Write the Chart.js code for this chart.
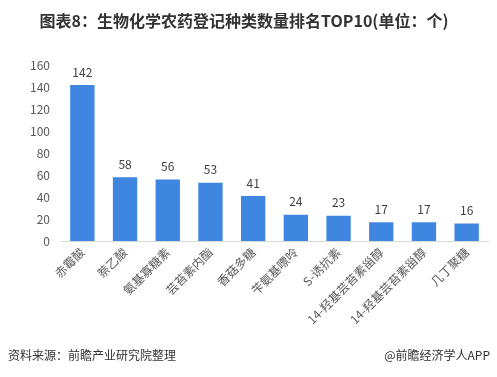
<!DOCTYPE html>
<html>
<head>
<meta charset="utf-8">
<script src="https://cdn.jsdelivr.net/npm/chart.js@4"></script>
<style>
  html, body { margin: 0; padding: 0; background: #fff; }
  #wrap { width: 497px; height: 377px; position: relative; }
</style>
</head>
<body>
<div id="wrap"><canvas id="chart" width="497" height="377"></canvas></div>
<script>
'use strict';

// 数据
const categories = ['赤霉酸', '萘乙酸', '氨基寡糖素', '芸苔素内酯', '香菇多糖', '苄氨基嘌呤', 'S-诱抗素', '14-羟基芸苔素甾醇', '14-羟基芸苔素甾醇', '几丁聚糖'];
const counts = [142, 58, 56, 53, 41, 24, 23, 17, 17, 16];
const yTicks = [0, 20, 40, 60, 80, 100, 120, 140, 160];

const titleText = '图表8：生物化学农药登记种类数量排名TOP10(单位：个)';
const sourceText = '资料来源：前瞻产业研究院整理';
const brandText = '@前瞻经济学人APP';

const FONT = '"Noto Sans CJK SC", "Noto Sans", sans-serif';

// 柱顶数值
const valueLabels = {
  id: 'valueLabels',
  afterDatasetsDraw(chart) {
    const ctx = chart.ctx;
    const meta = chart.getDatasetMeta(0);
    ctx.save();
    ctx.font = '12px ' + FONT;
    ctx.fillStyle = '#404040';
    ctx.textAlign = 'center';
    ctx.textBaseline = 'bottom';
    meta.data.forEach((bar, i) => {
      ctx.fillText(String(counts[i]), bar.x, bar.y - 7);
    });
    ctx.restore();
  }
};

// 底部来源
const footer = {
  id: 'footer',
  afterDraw(chart) {
    const ctx = chart.ctx;
    ctx.save();
    ctx.font = '12px ' + FONT;
    ctx.fillStyle = '#333';
    ctx.textBaseline = 'middle';
    ctx.textAlign = 'left';
    ctx.fillText(sourceText, 8, 355);
    ctx.textAlign = 'right';
    ctx.fillText(brandText, 490, 355);
    ctx.restore();
  }
};

new Chart(document.getElementById('chart'), {
  type: 'bar',
  data: {
    labels: categories,
    datasets: [{
      data: counts,
      backgroundColor: '#3f86e0',
      categoryPercentage: 1,
      barPercentage: 0.57
    }]
  },
  options: {
    responsive: false,
    animation: false,
    layout: {
      padding: { left: 0, right: 9, top: 0, bottom: 42 }
    },
    scales: {
      x: {
        grid: { display: false, drawTicks: false },
        border: { color: '#d9d9d9', width: 1 },
        ticks: {
          color: '#595959',
          font: { family: FONT, size: 12 },
          minRotation: 45,
          maxRotation: 45,
          padding: 4,
          autoSkip: false
        },
        afterFit(scale) { scale.height = 94; }
      },
      y: {
        min: 0,
        max: 160,
        grid: { display: false, drawTicks: false },
        border: { display: false },
        afterBuildTicks(scale) { scale.ticks = yTicks.map(v => ({ value: v })); },
        ticks: {
          color: '#595959',
          font: { family: FONT, size: 12 },
          padding: 11
        },
        afterFit(scale) { scale.width = 61; }
      }
    },
    plugins: {
      legend: { display: false },
      tooltip: { enabled: false },
      title: {
        display: true,
        text: titleText,
        color: '#333',
        font: { family: FONT, size: 16, weight: 'bold' },
        padding: { top: 11, bottom: 35 }
      }
    }
  },
  plugins: [valueLabels, footer]
});
</script>
</body>
</html>
